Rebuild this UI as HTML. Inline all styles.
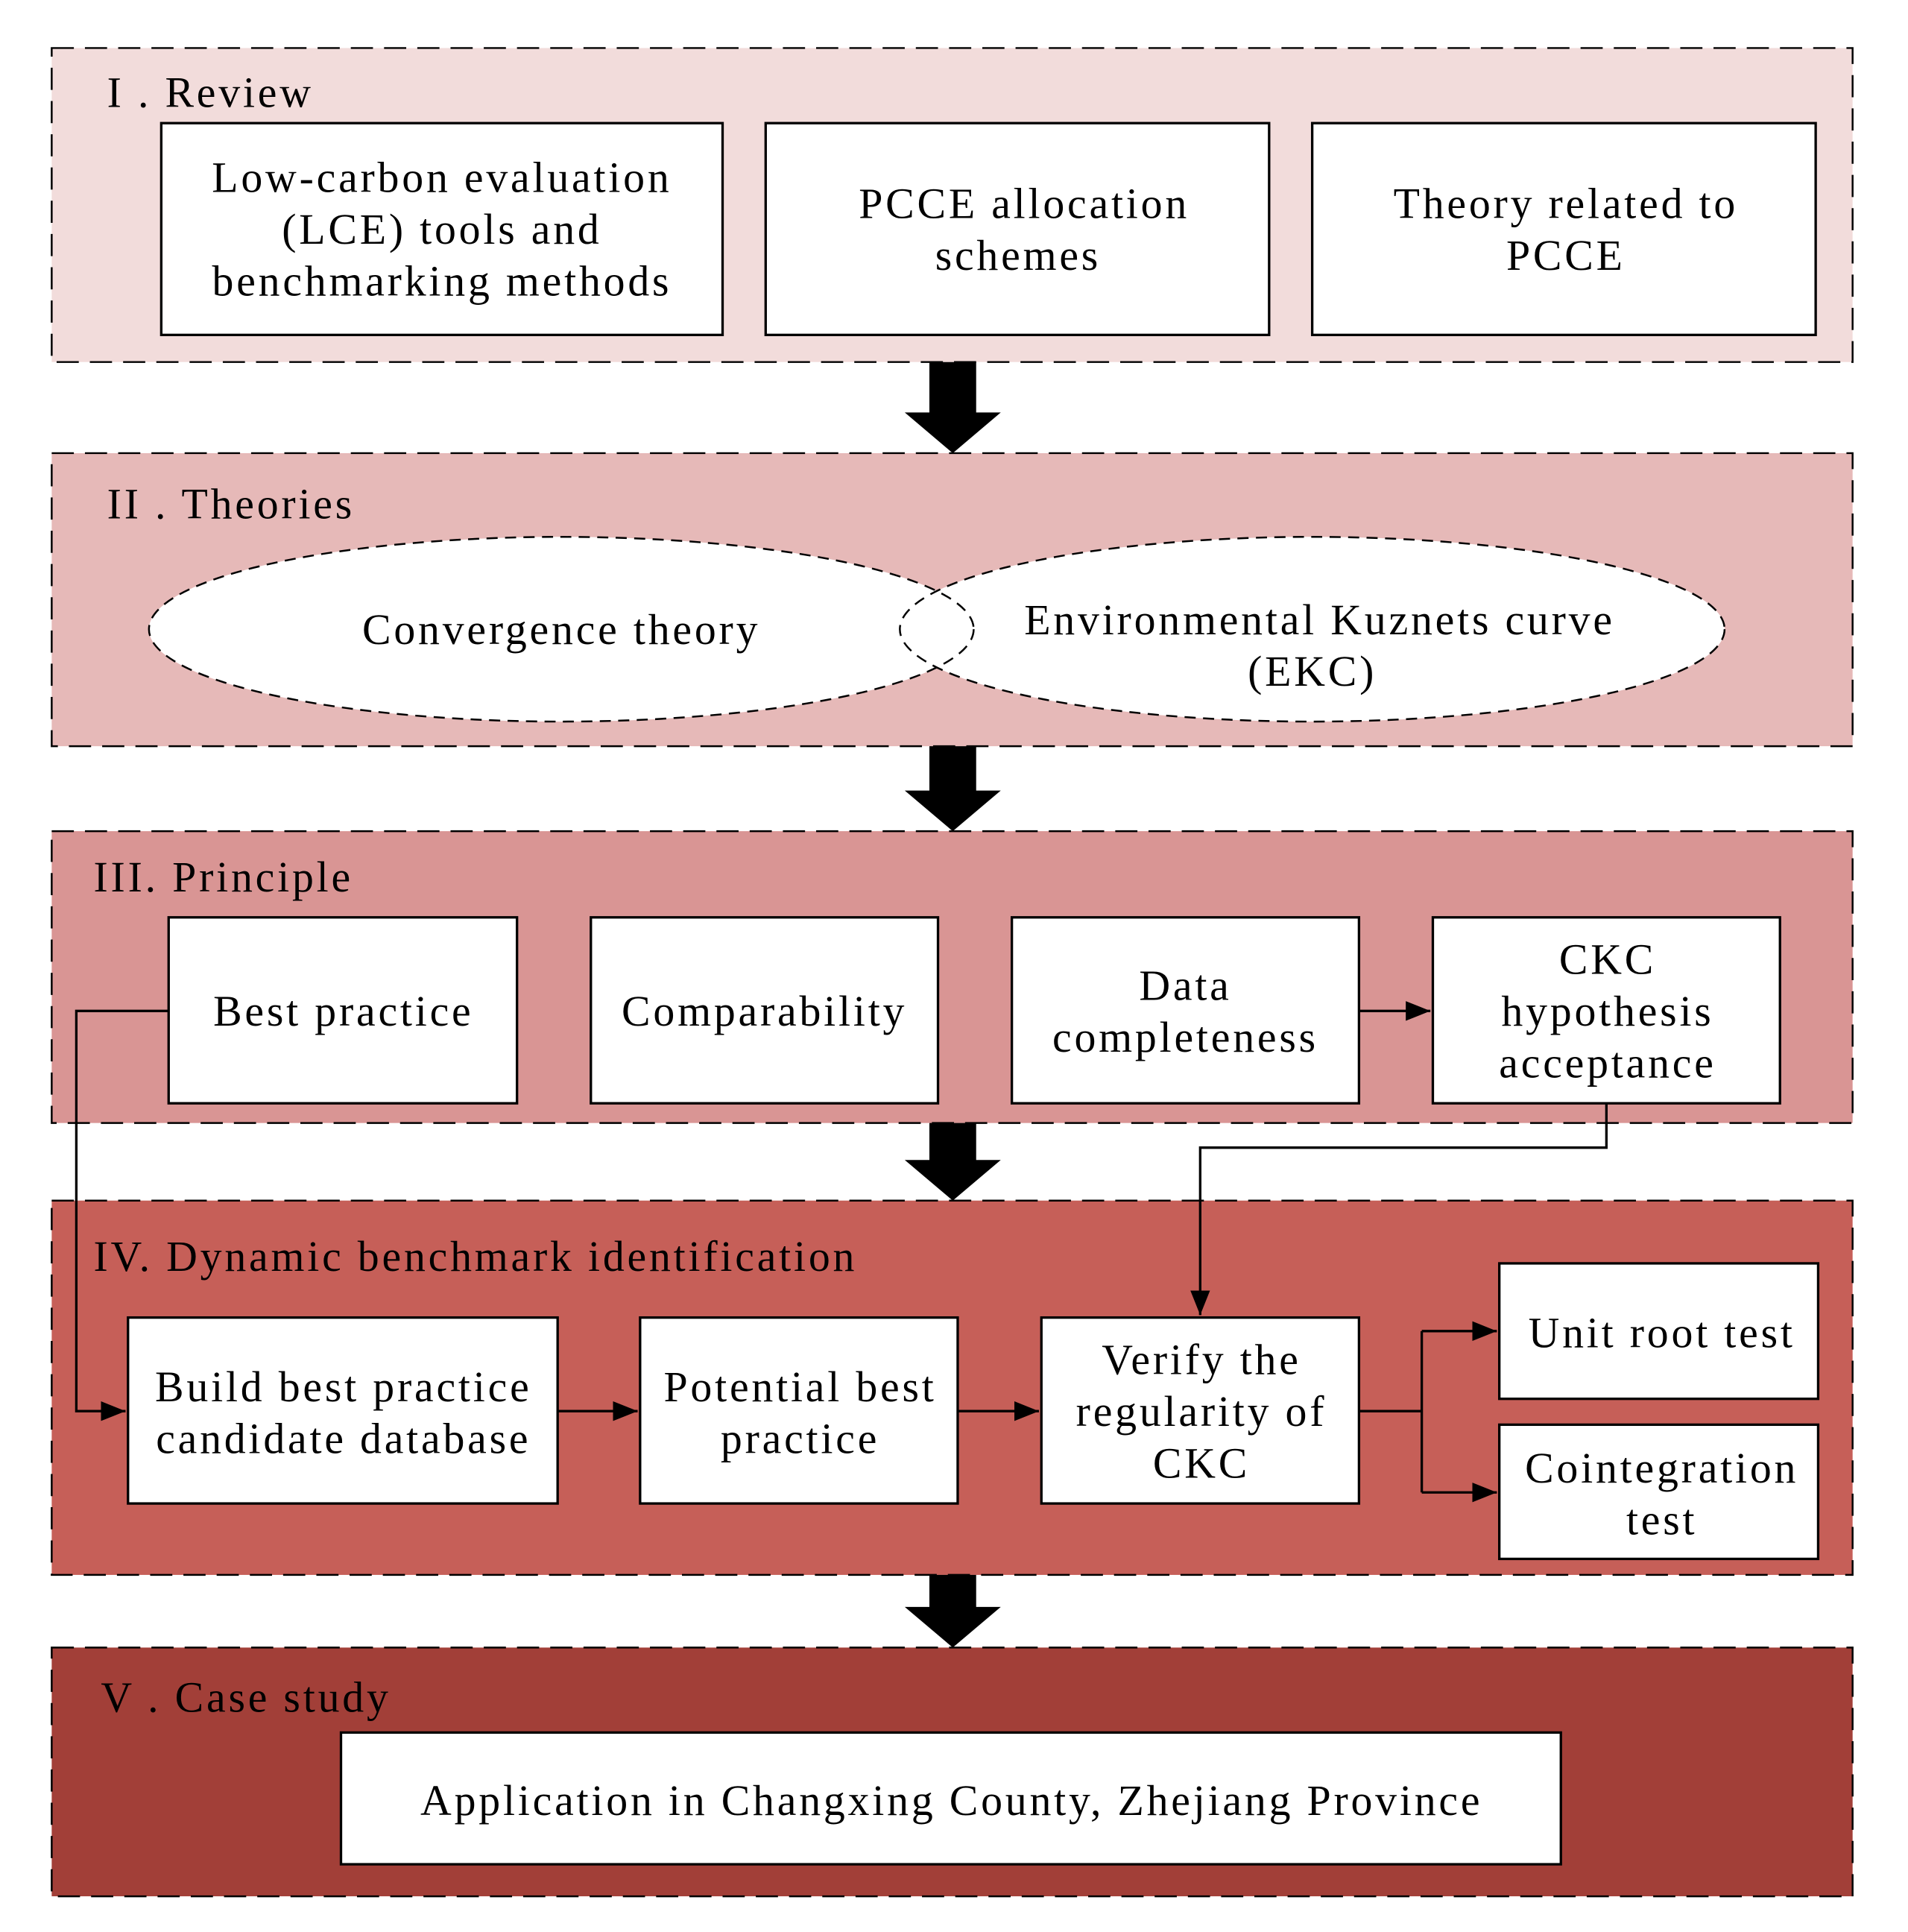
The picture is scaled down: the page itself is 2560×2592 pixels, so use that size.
<!DOCTYPE html>
<html><head><meta charset="utf-8"><style>
html,body{margin:0;padding:0;background:#fff}
svg{display:block}
text{font-family:"Liberation Serif",serif;font-size:35px;fill:#000;letter-spacing:2.3px}
</style></head><body>
<svg width="2560" height="2592" viewBox="0 0 1550 1569" preserveAspectRatio="none" xmlns="http://www.w3.org/2000/svg">
<defs>
<marker id="a" markerWidth="20" markerHeight="16" refX="20" refY="8" orient="auto" markerUnits="userSpaceOnUse" viewBox="0 0 20 16"><path d="M0,0 L20,8 L0,16 z" fill="#000"/></marker>
</defs>
<g stroke="#000" stroke-width="1.5" stroke-dasharray="18,9">
<rect x="42" y="39" width="1463" height="255" fill="#f2dcdb"/>
<rect x="42" y="368" width="1463" height="238" fill="#e6b9b8"/>
<rect x="42" y="675" width="1463" height="237" fill="#d99594"/>
<rect x="42" y="975" width="1463" height="304" fill="#c65f58"/>
<rect x="42" y="1338" width="1463" height="202" fill="#a23f38"/>
</g>
<g fill="#000">
<path d="M755,294 H793 V335 H813 L774,368 L735,335 H755 Z"/>
<path d="M755,606 H793 V642 H813 L774,675 L735,642 H755 Z"/>
<path d="M755,912 H793 V942 H813 L774,975 L735,942 H755 Z"/>
<path d="M755,1279 H793 V1305 H813 L774,1338 L735,1305 H755 Z"/>
</g>
<g fill="#fff" stroke="#000" stroke-width="2">
<rect x="131" y="100" width="456" height="172"/>
<rect x="622" y="100" width="409" height="172"/>
<rect x="1066" y="100" width="409" height="172"/>
<rect x="137" y="745" width="283" height="151"/>
<rect x="480" y="745" width="282" height="151"/>
<rect x="822" y="745" width="282" height="151"/>
<rect x="1164" y="745" width="282" height="151"/>
<rect x="104" y="1070" width="349" height="151"/>
<rect x="520" y="1070" width="258" height="151"/>
<rect x="846" y="1070" width="258" height="151"/>
<rect x="1218" y="1026" width="259" height="110"/>
<rect x="1218" y="1157" width="259" height="109"/>
<rect x="277" y="1407" width="991" height="107"/>
</g>
<g fill="#fff">
<ellipse cx="456" cy="511" rx="335" ry="75"/>
<ellipse cx="1066" cy="511" rx="335" ry="75"/>
</g>
<g fill="none" stroke="#000" stroke-width="1.5" stroke-dasharray="9,6">
<ellipse cx="456" cy="511" rx="335" ry="75"/>
<ellipse cx="1066" cy="511" rx="335" ry="75"/>
</g>
<g fill="none" stroke="#000" stroke-width="2">
<path d="M1104,821 H1162" marker-end="url(#a)"/>
<path d="M137,821 H62 V1146 H102" marker-end="url(#a)"/>
<path d="M1305,896 V932 H975 V1068" marker-end="url(#a)"/>
<path d="M453,1146 H518" marker-end="url(#a)"/>
<path d="M778,1146 H844" marker-end="url(#a)"/>
<path d="M1104,1146 H1155 M1155,1081 V1212"/>
<path d="M1155,1081 H1216" marker-end="url(#a)"/>
<path d="M1155,1212 H1216" marker-end="url(#a)"/>
</g>
<g>
<text x="87" y="87">I . Review</text>
<text x="87" y="421">II . Theories</text>
<text x="76" y="724">III. Principle</text>
<text x="76" y="1032">IV. Dynamic benchmark identification</text>
<text x="82" y="1390">V . Case study</text>
</g>
<g text-anchor="middle">
<text x="359" y="156">Low-carbon evaluation</text>
<text x="359" y="198">(LCE) tools and</text>
<text x="359" y="240">benchmarking methods</text>
<text x="832" y="177">PCCE allocation</text>
<text x="827" y="219">schemes</text>
<text x="1272" y="177">Theory related to</text>
<text x="1272" y="219">PCCE</text>
<text x="456" y="523">Convergence theory</text>
<text x="1072" y="515">Environmental Kuznets curve</text>
<text x="1066" y="557">(EKC)</text>
<text x="279" y="833">Best practice</text>
<text x="621" y="833">Comparability</text>
<text x="963" y="812">Data</text>
<text x="963" y="854">completeness</text>
<text x="1306" y="791">CKC</text>
<text x="1306" y="833">hypothesis</text>
<text x="1306" y="875">acceptance</text>
<text x="279" y="1138">Build best practice</text>
<text x="279" y="1180">candidate database</text>
<text x="650" y="1138">Potential best</text>
<text x="650" y="1180">practice</text>
<text x="976" y="1116">Verify the</text>
<text x="976" y="1158">regularity of</text>
<text x="976" y="1200">CKC</text>
<text x="1350" y="1094">Unit root test</text>
<text x="1350" y="1204">Cointegration</text>
<text x="1350" y="1246">test</text>
<text x="773" y="1474">Application in Changxing County, Zhejiang Province</text>
</g>
</svg>
</body></html>
